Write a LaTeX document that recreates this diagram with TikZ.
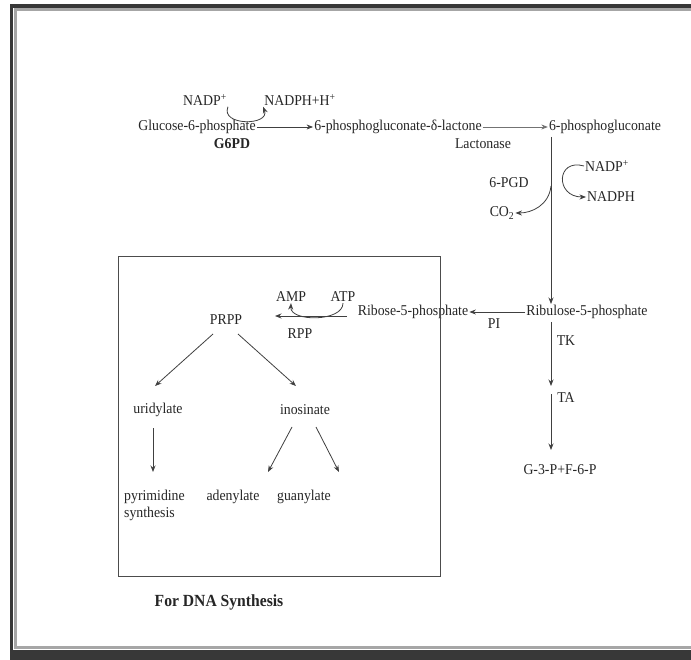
\documentclass[tikz,border=0pt]{standalone}
\usepackage{fontspec}
\setmainfont{Liberation Serif}[FakeStretch=0.92]
\usetikzlibrary{arrows.meta}
\begin{document}
\begin{tikzpicture}[x=1pt,y=-1pt]
  \tikzset{lbl/.style={inner sep=1pt,font=\fontsize{15}{17}\selectfont,text=black!85},
    bl/.style={lbl,font=\fontsize{15}{17}\selectfont\bfseries},
    arr/.style={draw=black!75,line width=0.8pt,-{Stealth[length=6.5pt,width=5pt]}}}
  \useasboundingbox (0,0) rectangle (691,660);
  % screenshot frame
  \fill[white] (0,0) rectangle (691,660);
  \draw[black!78,line width=3.5pt] (11.5,660) -- (11.5,6) -- (691,6);
  \fill[black!78] (10,650) rectangle (691,660);
  \draw[black!35,line width=2.5pt] (15.5,648) -- (15.5,9.5) -- (691,9.5);
  \draw[black!35,line width=2.5pt] (14,647.5) -- (691,647.5);
  % top row
  \node[lbl] (g6p) at (197,127) {Glucose-6-phosphate};
  \node[lbl] (lac) at (398,127) {6-phosphogluconate-δ-lactone};
  \node[lbl] (pg) at (605,127) {6-phosphogluconate};
  \node[lbl] (nadpa) at (205,100) {NADP\textsuperscript{+}};
  \node[lbl] (nadpha) at (300,100) {NADPH+H\textsuperscript{+}};
  \node[bl] (g6pd) at (232,144) {G6PD};
  \node[lbl] (lacn) at (483,144) {Lactonase};
  \draw[arr] (g6p) -- (lac);
  \draw[arr,draw=black!55] (lac) -- (pg);
  \draw[arr] (nadpa.south east) .. controls (220,126) and (270,126) .. (nadpha.south west);
  % oxidative step
  \node[lbl] (nadpb) at (607,166) {NADP\textsuperscript{+}};
  \node[lbl] (pgd) at (509,183) {6-PGD};
  \node[lbl] (nadphb) at (611,197) {NADPH};
  \node[lbl] (co2) at (502,213) {CO\textsubscript{2}};
  \node[lbl] (ru5p) at (587,312) {Ribulose-5-phosphate};
  \coordinate (top) at (551,137);
  \coordinate (split) at (551,186);
  \draw[arr] (top) -- (ru5p.north -| top);
  \draw[arr] (nadpb.west) .. controls (556,158) and (555,197) .. (nadphb.west);
  \draw[arr] (split) .. controls (549,205) and (532,213) .. (co2.east);
  % non-oxidative step
  \node[lbl] (r5p) at (413,312) {Ribose-5-phosphate};
  \node[lbl] (pi) at (494,324) {PI};
  \node[lbl] (tk) at (566,341) {TK};
  \node[lbl] (ta) at (566,398) {TA};
  \node[lbl] (g3p) at (560,470) {G-3-P+F-6-P};
  \coordinate (tka) at (551,322);
  \coordinate (tkb) at (551,386);
  \coordinate (taa) at (551,394);
  \coordinate (tab) at (551,450);
  \draw[arr] (ru5p.west) -- (r5p.east);
  \draw[arr] (tka) -- (tkb);
  \draw[arr] (taa) -- (tab);
  % DNA box
  \draw[black!70,line width=0.8pt] (118,256) rectangle (440,576);
  \node[lbl] (amp) at (291,297) {AMP};
  \node[lbl] (atp) at (343,297) {ATP};
  \node[lbl] (rpp) at (300,334) {RPP};
  \node[lbl] (prpp) at (226,320) {PRPP};
  \coordinate (rppa) at (347,316);
  \coordinate (rppb) at (275,316);
  \draw[arr] (rppa) -- (rppb);
  \draw[arr] (atp.south) .. controls (343,322) and (290,322) .. (amp.south);
  \node[lbl] (uri) at (158,410) {uridylate};
  \node[lbl] (ino) at (305,410) {inosinate};
  \node[lbl,align=left,anchor=north west] (pyr) at (123,489) {pyrimidine\\synthesis};
  \node[lbl] (ade) at (233,497) {adenylate};
  \node[lbl] (gua) at (304,497) {guanylate};
  \coordinate (pl) at (213,334);
  \coordinate (pr) at (238,334);
  \coordinate (ua) at (153,428);
  \coordinate (ia) at (292,427);
  \coordinate (ib) at (316,427);
  \draw[arr] (pl) -- (155,386);
  \draw[arr] (pr) -- (296,386);
  \draw[arr] (ua) -- (153,472);
  \draw[arr] (ia) -- (268,472);
  \draw[arr] (ib) -- (339,472);
  \node[font=\fontsize{17}{19}\selectfont\bfseries,text=black!85] (dna) at (219,602) {For DNA Synthesis};
\end{tikzpicture}
\end{document}
